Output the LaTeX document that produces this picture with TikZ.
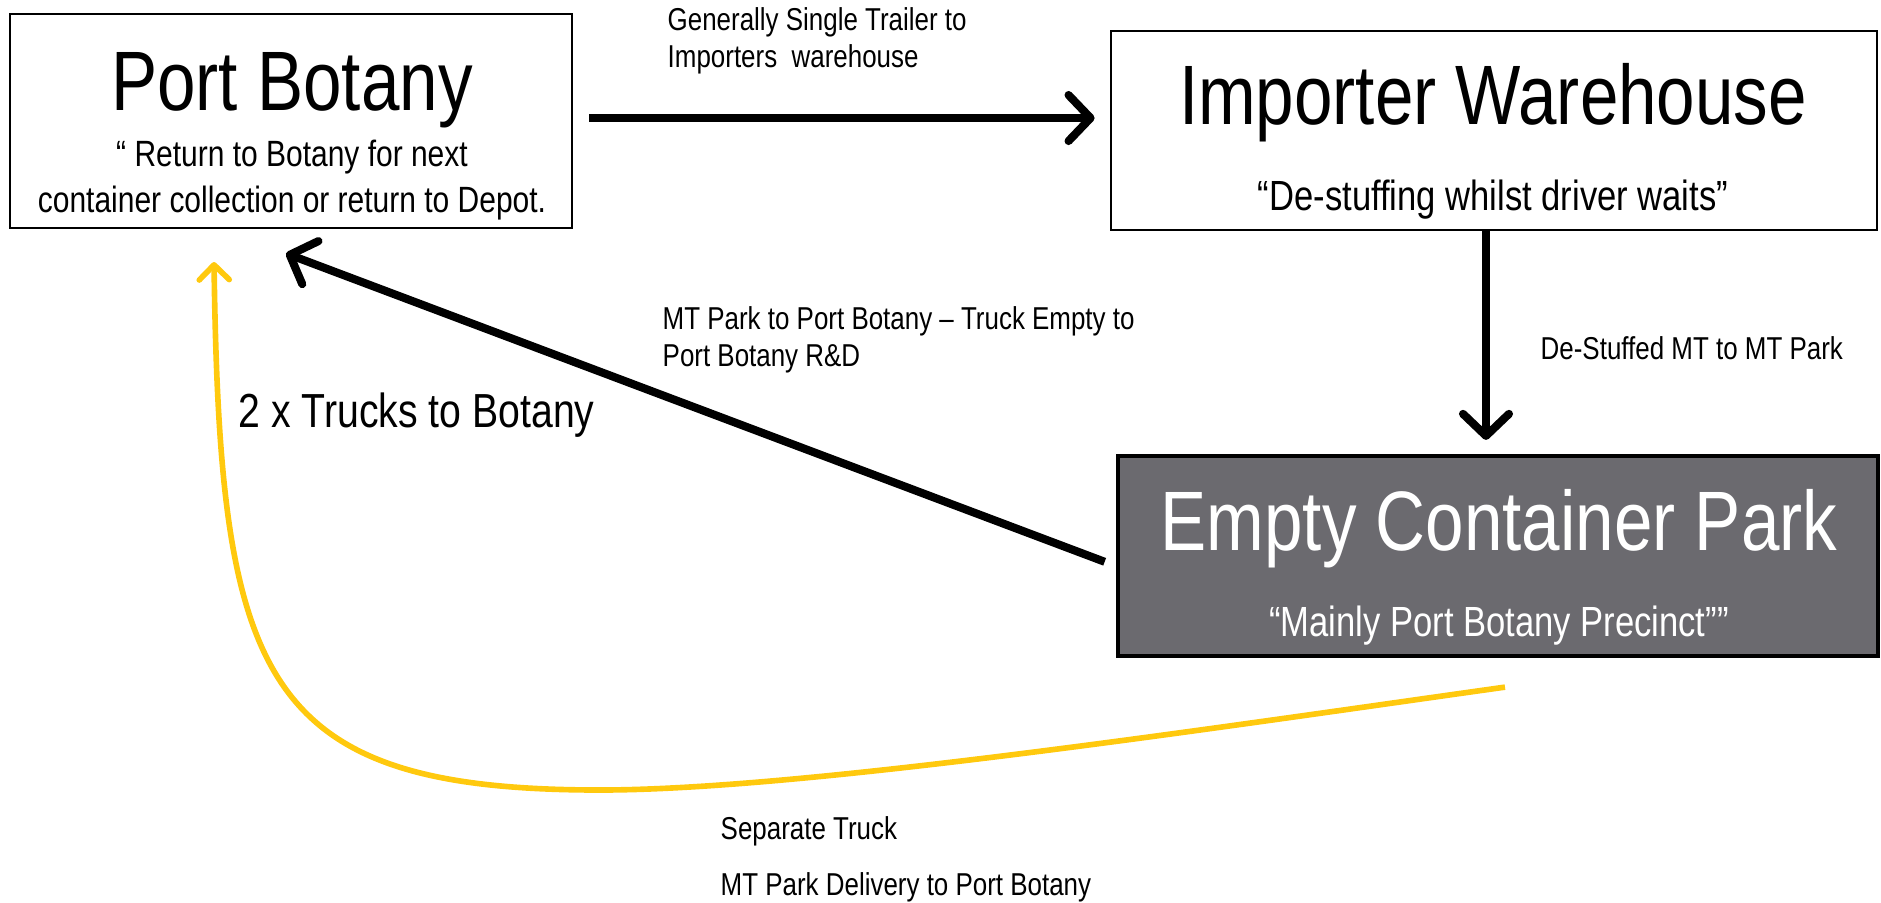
\documentclass[tikz,border=0pt]{standalone}
\usepackage{fontspec}
\setmainfont{Liberation Sans}[FakeStretch=0.82]
\usetikzlibrary{arrows.meta,calc}
\definecolor{parkgrey}{HTML}{6B6A6F}
\definecolor{truckyellow}{HTML}{FFC90E}
\tikzset{
	box/.style={draw=black, line width=0.8pt, inner sep=0pt},
	title/.style={anchor=base, inner sep=0pt, font=\fontsize{24}{28}\selectfont},
	sub/.style={anchor=base, inner sep=0pt, font=\fontsize{12}{14}\selectfont},
	lbl/.style={anchor=base west, inner sep=0pt, font=\fontsize{9}{11}\selectfont},
	flow/.style={line width=2.3pt, -{Straight Barb[length=0.22cm, width=0.46cm, round]}},
	truck/.style={draw=truckyellow, line width=1.6pt, -{Straight Barb[length=0.15cm, width=0.3cm, round]}}
}

\begin{document}
\begin{tikzpicture}
		%%%%% START %%%%%
		\useasboundingbox (0, 0) rectangle (18.81, -9.02);
		
		\node[box, minimum width=5.62cm, minimum height=2.14cm] (pb) at (2.91, -1.21) {};
		\node[box, minimum width=7.66cm, minimum height=1.99cm] (iw) at (14.94, -1.305) {};
		\node[box, fill=parkgrey, line width=1.2pt, minimum width=7.60cm, minimum height=2.00cm] (ecp) at (14.98, -5.56) {};
		
		\node[title] (pbname) at (2.92, -1.10) {Port Botany};
		\node[sub, font=\fontsize{10.4}{12}\selectfont] (pbnote1) at (2.92, -1.66) {“ Return to Botany for next};
		\node[sub, font=\fontsize{10.4}{12}\selectfont] (pbnote2) at (2.92, -2.12) {container collection or return to Depot.};
		
		\node[title] (iwname) at (14.93, -1.24) {Importer Warehouse};
		\node[sub] (iwnote) at (14.93, -2.10) {“De-stuffing whilst driver waits”};
		
		\node[title, text=white] (ecpname) at (14.99, -5.50) {Empty Container Park};
		\node[sub, text=white] (ecpnote) at (14.99, -6.36) {“Mainly Port Botany Precinct””};
		
		\node[lbl] (toiw1) at (6.67, -0.30) {Generally Single Trailer to};
		\node[lbl] (toiw2) at (6.67, -0.67) {Importers\ \ warehouse};
		\node[lbl] (toecp) at (15.40, -3.59) {De-Stuffed MT to MT Park};
		\node[lbl] (topb1) at (6.62, -3.29) {MT Park to Port Botany – Truck Empty to};
		\node[lbl] (topb2) at (6.62, -3.66) {Port Botany R\&D};
		\node[lbl, font=\fontsize{13.6}{16}\selectfont] (trucks) at (2.38, -4.27) {2 x Trucks to Botany};
		\node[lbl] (sep1) at (7.20, -8.39) {Separate Truck};
		\node[lbl] (sep2) at (7.20, -8.95) {MT Park Delivery to Port Botany};
		
		\coordinate (pbin) at ($(pb.south)+(-0.05, -0.24)$);
		\coordinate (ystart) at ($(ecp.south)+(0.07, -0.29)$);
		\coordinate (ybottom) at (6.0, -7.90);
		\coordinate (ytip) at (2.14, -2.62);
		
		\draw[flow, shorten <=0.16cm, shorten >=0.15cm] ([yshift=0.03cm]pb.east) -- ([yshift=0.03cm]pb.east -| iw.west);
		\draw[flow, shorten >=0.14cm] ([xshift=-0.08cm]iw.south) -- ([xshift=-0.08cm]iw.south |- ecp.north);
		\draw[flow, shorten <=0.12cm] ([yshift=-0.1cm]ecp.west) -- (pbin);
		
		\draw[truck] (ystart) .. controls (12.0, -7.30) and (8.0, -7.90) .. (ybottom)
			.. controls (2.6, -7.90) and (2.2, -6.8) .. (ytip);
		%%%%% END %%%%%
\end{tikzpicture}
\end{document}
